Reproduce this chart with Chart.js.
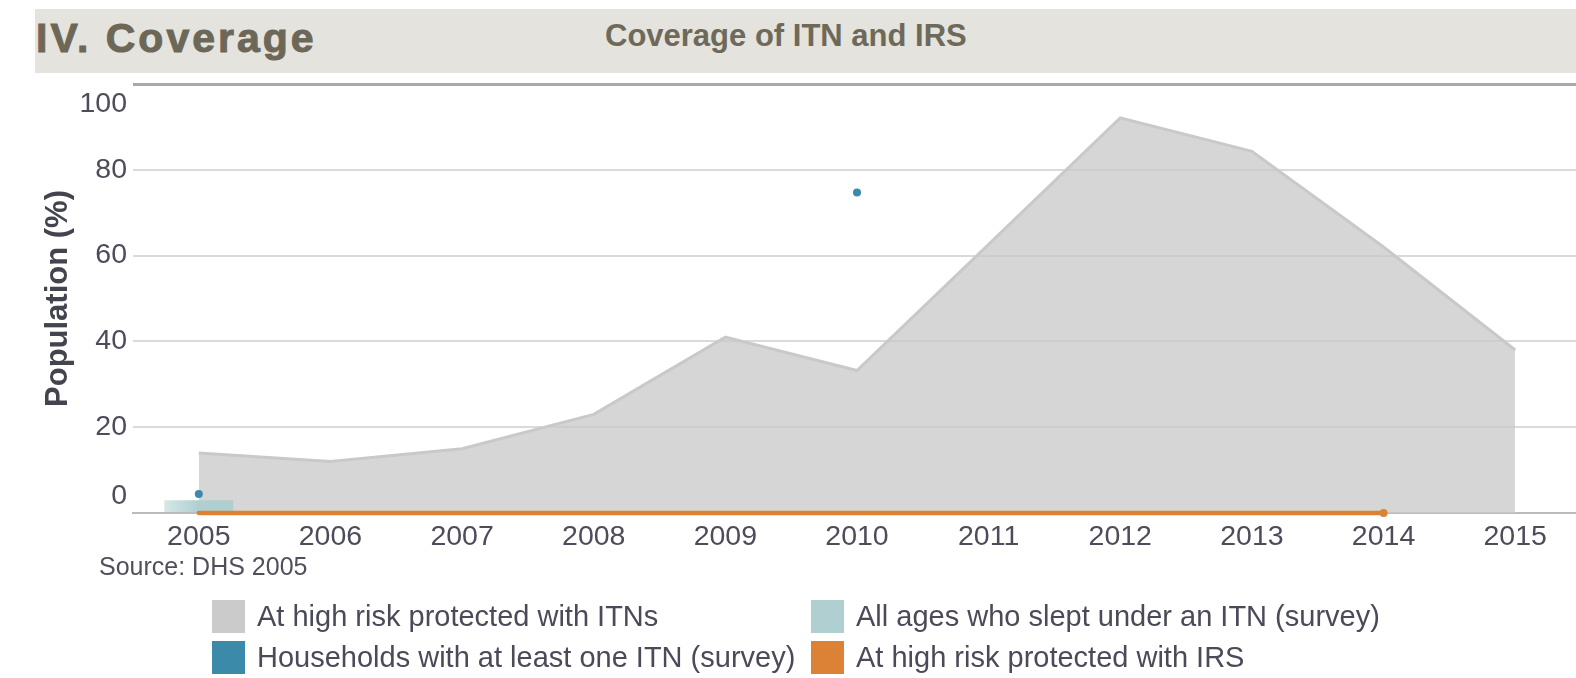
<!DOCTYPE html>
<html>
<head>
<meta charset="utf-8">
<script src="https://cdn.jsdelivr.net/npm/chart.js@4.4.1/dist/chart.umd.min.js"></script>
<style>
    html, body { margin: 0; padding: 0; background: #fff; overflow: hidden; }
    body { width: 1576px; height: 678px; position: relative; font-family: "Liberation Sans", Arial, sans-serif; }
    #chart { position: absolute; left: 0; top: 0; }
    .band { position: absolute; left: 35px; top: 9px; width: 1541px; height: 64px; background: #e4e3de; }
    .section { position: absolute; left: 36px; top: 18px; font-size: 41px; line-height: 41px; font-weight: bold; letter-spacing: 3px; color: #6c6757; -webkit-text-stroke: 1px #6c6757; white-space: nowrap; }
    .title { position: absolute; left: 605px; top: 20px; font-size: 31px; line-height: 31px; font-weight: bold; color: #6e6959; white-space: nowrap; }
    .source { position: absolute; left: 99px; top: 554px; font-size: 25px; line-height: 24px; color: #50505c; white-space: nowrap; }
    .legend-item { position: absolute; display: flex; align-items: center; height: 33px; font-size: 29px; color: #4a4a58; white-space: nowrap; }
    .legend-item span.box { display: inline-block; width: 33px; height: 33px; margin-right: 12px; }
</style>
</head>
<body>
<canvas id="chart" width="1585" height="678"></canvas>
<div class="band"></div>
<div class="section">IV. Coverage</div>
<div class="title">Coverage of ITN and IRS</div>
<div class="source">Source: DHS 2005</div>
<div id="legend"></div>
<script>
// --- 데이터 ---
const years = ['2005', '2006', '2007', '2008', '2009', '2010', '2011', '2012', '2013', '2014', '2015'];
const itnHighRisk = [14, 12, 15, 23, 41, 33.2, 62.6, 92.1, 84.3, 62, 38];
const householdsSurvey = [4.4, null, null, null, null, 74.7, null, null, null, null, null];
const allAgesSurvey = [3, null, null, null, null, null, null, null, null, null, null];
const irsHighRisk = [0, 0, 0, 0, 0, 0, 0, 0, 0, 0, null];
const yTicks = [0, 20, 40, 60, 80, 100];

const seriesNames = [
    'At high risk protected with ITNs',
    'All ages who slept under an ITN (survey)',
    'Households with at least one ITN (survey)',
    'At high risk protected with IRS'
];
const seriesColors = ['#cbcbcb', '#b0cfd0', '#3b8aa9', '#db8236'];

// --- 범례 (HTML) ---
const legendPos = [[212, 600], [811, 600], [212, 641], [811, 641]];
const legendEl = document.getElementById('legend');
seriesNames.forEach((name, i) => {
    const item = document.createElement('div');
    item.className = 'legend-item';
    item.style.left = legendPos[i][0] + 'px';
    item.style.top = legendPos[i][1] + 'px';
    item.innerHTML = `<span class="box" style="background:${seriesColors[i]}"></span>${name}`;
    legendEl.appendChild(item);
});

// y축 눈금 라벨: 0 과 100 은 안쪽으로 살짝 밀어서 그림
const yLabelPlugin = {
    id: 'yLabels',
    afterDraw(chart) {
        const { ctx, scales: { y } } = chart;
        ctx.save();
        ctx.font = '28.5px "Liberation Sans", Arial, sans-serif';
        ctx.fillStyle = '#4c4c5a';
        ctx.textAlign = 'right';
        ctx.textBaseline = 'middle';
        yTicks.forEach(v => {
            let py = y.getPixelForValue(v);
            if (v === 100) py += 20;
            if (v === 0) py -= 17;
            ctx.fillText(String(v), 127, py);
        });
        ctx.restore();
    }
};

const ctx = document.getElementById('chart').getContext('2d');
new Chart(ctx, {
    data: {
        labels: years,
        datasets: [
            {
                type: 'line',
                label: seriesNames[3],
                data: irsHighRisk,
                borderColor: '#db8236',
                backgroundColor: '#db8236',
                borderWidth: 4.5,
                borderCapStyle: 'round',
                pointRadius: (c) => c.dataIndex === 9 ? 4 : 0,
                pointBorderWidth: 0,
                pointBackgroundColor: '#db8236',
                clip: false,
                order: 0
            },
            {
                type: 'line',
                label: seriesNames[2],
                data: householdsSurvey,
                showLine: false,
                pointRadius: 4,
                pointBorderWidth: 0,
                pointBackgroundColor: '#3b8aa9',
                order: 1
            },
            {
                type: 'bar',
                label: seriesNames[1],
                data: allAgesSurvey,
                backgroundColor: (c) => {
                    const chart = c.chart;
                    if (!chart.chartArea) return '#b0cfd0';
                    const cx = chart.scales.x.getPixelForValue(0);
                    const g = chart.ctx.createLinearGradient(cx - 34, 0, cx, 0);
                    g.addColorStop(0, '#d6e6e6');
                    g.addColorStop(1, '#b0cfd0');
                    return g;
                },
                borderWidth: 0,
                barPercentage: 0.524,
                categoryPercentage: 1,
                order: 2
            },
            {
                type: 'line',
                label: seriesNames[0],
                data: itnHighRisk,
                borderColor: '#c9c9c9',
                borderWidth: 3,
                backgroundColor: 'rgba(201, 201, 201, 0.76)',
                fill: 'origin',
                tension: 0,
                pointRadius: 0,
                order: 3
            }
        ]
    },
    options: {
        responsive: false,
        animation: false,
        layout: { padding: { left: 0, right: 0, top: 84, bottom: 120 } },
        plugins: {
            legend: { display: false },
            tooltip: { enabled: false }
        },
        scales: {
            x: {
                type: 'category',
                offset: true,
                grid: { display: false, drawTicks: false },
                border: { display: true, color: '#bcbcbc', width: 2 },
                ticks: {
                    color: '#4c4c5a',
                    padding: 7,
                    maxRotation: 0,
                    autoSkip: false,
                    font: { family: '"Liberation Sans", Arial, sans-serif', size: 28.5 }
                },
                afterFit: (scale) => { scale.height = 45; }
            },
            y: {
                min: 0,
                max: 100,
                ticks: { display: false, stepSize: 20 },
                border: { display: false },
                grid: {
                    drawTicks: false,
                    color: (c) => c.tick.value === 100 ? '#a9a9a9' : (c.tick.value === 0 ? 'rgba(0,0,0,0)' : '#dadada'),
                    lineWidth: (c) => c.tick.value === 100 ? 3 : 2
                },
                title: {
                    display: true,
                    text: 'Population (%)',
                    color: '#44444f',
                    padding: { top: 40, bottom: 0 },
                    font: { family: '"Liberation Sans", Arial, sans-serif', size: 31, weight: 'bold' }
                },
                afterFit: (scale) => { scale.width = 133; }
            }
        }
    },
    plugins: [yLabelPlugin]
});
</script>
</body>
</html>
